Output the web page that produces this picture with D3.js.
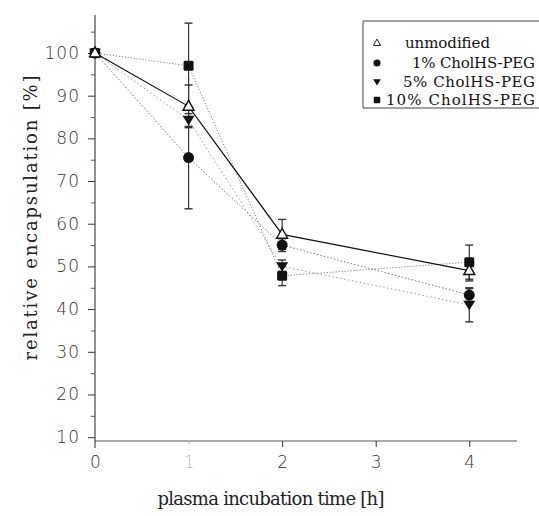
<!DOCTYPE html>
<html>
<head>
<meta charset="utf-8">
<script src="https://cdn.jsdelivr.net/npm/d3@7"></script>
<style>
  body { margin: 0; background: #fff; }
  .tick text { font-family: "DejaVu Sans", sans-serif; font-weight: 200; }
</style>
</head>
<body>
<div id="chart"></div>
<script>
// data
var times = [0, 1, 2, 4];
var seriesNames = ["unmodified", "1% CholHS-PEG", "5% CholHS-PEG", "10% CholHS-PEG"];
var unmodified = [100, 87.5, 57.5, 49];
var unmodifiedErr = [0, 5, 3.5, 2.4];
var chol1 = [100, 75.5, 55, 43.3];
var chol1Err = [0, 12, 1.5, 1.5];
var chol5 = [100, 84.3, 50, 41];
var chol5Err = [0, 1.5, 1.5, 4];
var chol10 = [100, 97, 47.8, 51];
var chol10Err = [0, 10, 2.3, 4];
var xTicks = [0, 1, 2, 3, 4];
var yTicks = [10, 20, 30, 40, 50, 60, 70, 80, 90, 100];

var svgWidth = 539;
var svgHeight = 516;

var svg = d3.select("#chart")
    .append("svg")
    .attr("width", svgWidth)
    .attr("height", svgHeight);

var xScale = d3.scaleLinear().domain([0, 4.51]).range([95, 517]);
var yScale = d3.scaleLinear().domain([9.1, 108.9]).range([441, 15]);

var series = [
    { name: seriesNames[0], values: unmodified, err: unmodifiedErr, symbol: "tri-open", stroke: "#111", dash: null, width: 1.2 },
    { name: seriesNames[1], values: chol1, err: chol1Err, symbol: "circle", stroke: "#777", dash: "1.5,2", width: 1 },
    { name: seriesNames[2], values: chol5, err: chol5Err, symbol: "tri-down", stroke: "#999", dash: "1.5,2.5", width: 1 },
    { name: seriesNames[3], values: chol10, err: chol10Err, symbol: "square", stroke: "#666", dash: "1,2", width: 1 }
];

// axes
var xAxis = d3.axisBottom(xScale).tickValues(xTicks).tickSize(6).tickPadding(9).tickFormat(d3.format("d"));
var yAxis = d3.axisLeft(yScale).tickValues(yTicks).tickSize(7).tickPadding(8).tickFormat(d3.format("d"));
var yMinor = d3.axisLeft(yScale).tickValues(d3.range(15, 110, 10)).tickSize(4).tickFormat("");

var gx = svg.append("g").attr("transform", "translate(0,441)").call(xAxis);
gx.select(".domain").attr("d", "M95,0H517").attr("stroke", "#555");
gx.selectAll(".tick line").attr("stroke", "#333");
gx.selectAll(".tick text").attr("font-size", 17).attr("fill", "#333");
gx.selectAll(".tick").filter(d => d === 0).select("line").remove();
gx.selectAll(".tick").filter(d => d === 1).select("text").attr("fill", "#bbb");
gx.selectAll(".tick").filter(d => d === 1).select("line").attr("stroke", "#bbb").attr("y2", 3);

var gy = svg.append("g").attr("transform", "translate(95,0)").call(yAxis);
gy.select(".domain").attr("d", "M0,15V448").attr("stroke", "#222");
gy.selectAll(".tick line").attr("stroke", "#333");
gy.selectAll(".tick text").attr("font-size", 17).attr("fill", "#333").attr("letter-spacing", 1);

var gyMinor = svg.append("g").attr("transform", "translate(95,0)").call(yMinor);
gyMinor.select(".domain").remove();
gyMinor.selectAll(".tick line").attr("stroke", "#555");

// axis titles
svg.append("text")
    .attr("x", 271).attr("y", 505)
    .attr("text-anchor", "middle")
    .attr("font-family", "DejaVu Serif, serif")
    .attr("font-size", 18)
    .attr("fill", "#222")
    .attr("textLength", 227)
    .text("plasma incubation time [h]");

svg.append("text")
    .attr("transform", "translate(37,218) rotate(-90)")
    .attr("text-anchor", "middle")
    .attr("font-family", "DejaVu Serif, serif")
    .attr("font-size", 18)
    .attr("fill", "#222")
    .attr("textLength", 285)
    .text("relative encapsulation [%]");

// lines
var line = d3.line()
    .x((d, i) => xScale(times[i]))
    .y(d => yScale(d));

series.slice().reverse().forEach(function (s) {
    svg.append("path")
        .datum(s.values)
        .attr("d", line)
        .attr("fill", "none")
        .attr("stroke", s.stroke)
        .attr("stroke-width", s.width)
        .attr("stroke-dasharray", s.dash);
});

// error bars
series.forEach(function (s) {
    var g = svg.append("g");
    s.values.forEach(function (v, i) {
        var e = s.err[i];
        if (!e) return;
        var x = xScale(times[i]);
        var y1 = yScale(v - e), y2 = yScale(v + e);
        g.append("line").attr("x1", x).attr("x2", x).attr("y1", y1).attr("y2", y2)
            .attr("stroke", "#333").attr("stroke-width", 1.2);
        [y1, y2].forEach(function (yy) {
            g.append("line").attr("x1", x - 4).attr("x2", x + 4).attr("y1", yy).attr("y2", yy)
                .attr("stroke", "#333").attr("stroke-width", 1.4);
        });
    });
});

function drawSymbol(g, type, x, y, k) {
    if (type === "circle") {
        g.append("circle").attr("cx", x).attr("cy", y).attr("r", 5.5 * k).attr("fill", "#111");
    } else if (type === "square") {
        g.append("rect").attr("x", x - 5 * k).attr("y", y - 5 * k).attr("width", 10 * k).attr("height", 10 * k)
            .attr("rx", 1.5 * k).attr("fill", "#111");
    } else if (type === "tri-down") {
        var s = 6 * k;
        g.append("path").attr("d", `M${x - s},${y - s * 0.7}L${x + s},${y - s * 0.7}L${x},${y + s * 0.9}Z`).attr("fill", "#111");
    } else {
        var t = 5.5 * k;
        g.append("path").attr("d", `M${x - t},${y + t * 0.7}L${x + t},${y + t * 0.7}L${x},${y - t * 1.1}Z`)
            .attr("fill", "#fff").attr("stroke", "#111").attr("stroke-width", 1.4 * k);
    }
}

// markers
series.slice().reverse().forEach(function (s) {
    var g = svg.append("g");
    s.values.forEach(function (v, i) {
        drawSymbol(g, s.symbol, xScale(times[i]), yScale(v), 1);
    });
});

// legend
var legend = svg.append("g");
legend.append("path")
    .attr("d", "M539,21H363V108H539")
    .attr("fill", "none")
    .attr("stroke", "#444")
    .attr("stroke-width", 1);

var legendY = [43, 63, 82, 100];
var legendTextX = [405, 412, 403, 386];
var legendTextLen = [85, 123, 132, 149];
series.forEach(function (s, i) {
    drawSymbol(legend, s.symbol, 377, legendY[i], 0.65);
    legend.append("text")
        .attr("x", legendTextX[i])
        .attr("y", legendY[i] + 5)
        .attr("font-family", "DejaVu Serif, serif")
        .attr("font-size", 15)
        .attr("fill", "#111")
        .attr("textLength", legendTextLen[i])
        .text(s.name);
});
</script>
</body>
</html>
